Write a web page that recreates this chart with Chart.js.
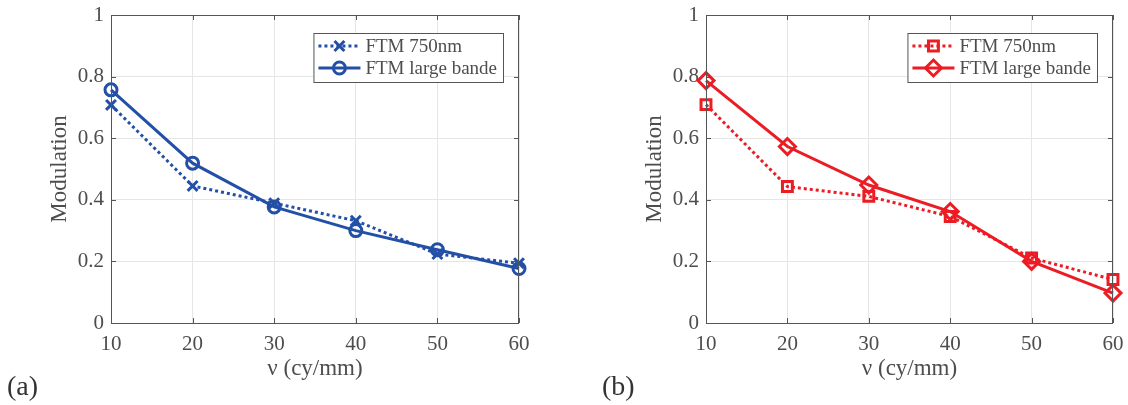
<!DOCTYPE html>
<html lang="fr">
<head>
  <meta charset="UTF-8" />
  <title>FTM - Modulation</title>
  <script src="https://cdn.jsdelivr.net/npm/chart.js"></script>
  <style>
    body { margin: 0; background: #fff; width: 1128px; height: 405px; position: relative; overflow: hidden; }
    .panel { position: absolute; top: 0; height: 405px; }
    #p1 { left: 0; width: 595px; }
    #p2 { left: 595px; width: 533px; }
    .lbl { position: absolute; top: 370px; font-family: 'Liberation Serif', serif; font-size: 28px; color: #333; }
  </style>
</head>
<body>
  <div class="panel" id="p1"><canvas id="chartA"></canvas></div>
  <div class="panel" id="p2"><canvas id="chartB"></canvas></div>
  <div class="lbl" style="left:7px">(a)</div>
  <div class="lbl" style="left:602px">(b)</div>

  <script>
    // données
    const nu = [10, 20, 30, 40, 50, 60];
    const bleu750 = [0.708, 0.445, 0.389, 0.332, 0.224, 0.194];
    const bleuLarge = [0.757, 0.519, 0.377, 0.300, 0.238, 0.177];
    const rouge750 = [0.709, 0.443, 0.411, 0.346, 0.211, 0.141];
    const rougeLarge = [0.787, 0.573, 0.448, 0.362, 0.200, 0.097];
    const xTicks = [10, 20, 30, 40, 50, 60];
    const yTicks = [0, 0.2, 0.4, 0.6, 0.8, 1];
    const labels = ["FTM 750nm", "FTM large bande"];

    const BLEU = "#2350a6";
    const ROUGE = "#ec1c24";
    const police = "'Liberation Serif', serif";
    const gris = "#4d4d4d";

    const pts = arr => arr.map((v, i) => ({ x: nu[i], y: v }));

    // cadre + graduations vers l'intérieur + légende dans le graphe
    const cadre = {
      id: "cadre",
      afterDatasetsDraw(chart) {
        const { ctx, chartArea: a, scales } = chart;
        ctx.save();
        ctx.strokeStyle = "#555";
        ctx.lineWidth = 1;
        ctx.strokeRect(a.left + 0.5, a.top + 0.5, a.right - a.left - 1, a.bottom - a.top);
        const L = 5;
        ctx.beginPath();
        scales.x.ticks.forEach(t => {
          const px = Math.round(scales.x.getPixelForValue(t.value)) + 0.5;
          ctx.moveTo(px, a.bottom); ctx.lineTo(px, a.bottom - L);
          ctx.moveTo(px, a.top); ctx.lineTo(px, a.top + L);
        });
        scales.y.ticks.forEach(t => {
          const py = Math.round(scales.y.getPixelForValue(t.value)) + 0.5;
          ctx.moveTo(a.left, py); ctx.lineTo(a.left + L, py);
          ctx.moveTo(a.right, py); ctx.lineTo(a.right - L, py);
        });
        ctx.stroke();

        // légende
        ctx.font = "19px " + police;
        const ds = chart.data.datasets;
        const tw = Math.max(...ds.map(d => ctx.measureText(d.label).width));
        const w = 5 + 42 + 5 + tw + 6, h = 49;
        const x0 = a.right - 16 - w, y0 = a.top + 18;
        ctx.fillStyle = "#fff";
        ctx.fillRect(x0, y0, w, h);
        ctx.strokeStyle = "#555";
        ctx.strokeRect(x0 + 0.5, y0 + 0.5, w, h);
        ds.forEach((d, i) => {
          const yy = y0 + 13 + i * 22;
          ctx.strokeStyle = d.borderColor;
          ctx.lineWidth = d.borderWidth;
          ctx.setLineDash(d.borderDash || []);
          ctx.beginPath();
          ctx.moveTo(x0 + 5, yy); ctx.lineTo(x0 + 47, yy);
          ctx.stroke();
          ctx.setLineDash([]);
          ctx.fillStyle = "rgba(0,0,0,0)";
          ctx.lineWidth = d.pointBorderWidth;
          Chart.helpers.drawPoint(ctx, {
            pointStyle: d.pointStyle, radius: d.pointRadius, borderWidth: d.pointBorderWidth, rotation: 0
          }, x0 + 26, yy);
          ctx.fillStyle = gris;
          ctx.textBaseline = "middle";
          ctx.fillText(d.label, x0 + 52, yy + 1);
        });
        ctx.restore();
      }
    };

    function serie(label, data, couleur, pointillé, style, r) {
      return {
        label, data: pts(data),
        borderColor: couleur, backgroundColor: "rgba(0,0,0,0)",
        borderWidth: 3, borderDash: pointillé ? [3, 3] : [],
        pointStyle: style, pointRadius: r, pointBorderWidth: 3,
        pointBorderColor: couleur, pointBackgroundColor: "rgba(0,0,0,0)",
        clip: false, tension: 0
      };
    }

    function graphe(id, d1, d2, padRight) {
      new Chart(document.getElementById(id), {
        type: "line",
        data: { datasets: [d1, d2] },
        options: {
          responsive: true, maintainAspectRatio: false, animation: false,
          layout: { padding: { left: 0, top: 15, right: padRight, bottom: 0 } },
          plugins: { legend: { display: false }, tooltip: { enabled: false } },
          scales: {
            x: {
              type: "linear", min: 10, max: 60,
              afterBuildTicks: s => { s.ticks = xTicks.map(v => ({ value: v })); },
              afterFit: s => { s.height = 82; s.paddingLeft = 0; s.paddingRight = 0; },
              grid: { color: "#e6e6e6", drawTicks: false },
              border: { display: false },
              ticks: { padding: 9, color: gris, font: { family: police, size: 21 }, callback: v => String(v) },
              title: { display: true, text: "ν (cy/mm)", color: gris, padding: { bottom: 22 },
                       font: { family: police, size: 23 } }
            },
            y: {
              min: 0, max: 1,
              afterBuildTicks: s => { s.ticks = yTicks.map(v => ({ value: v })); },
              afterFit: s => { s.width = 111; s.paddingTop = 0; s.paddingBottom = 0; },
              grid: { color: "#e6e6e6", drawTicks: false },
              border: { display: false },
              ticks: { padding: 7, color: gris, font: { family: police, size: 21 }, callback: v => String(v) },
              title: { display: true, text: "Modulation", color: gris, padding: { top: 46 },
                       font: { family: police, size: 23 } }
            }
          }
        },
        plugins: [cadre]
      });
    }

    graphe("chartA",
      serie(labels[0], bleu750, BLEU, true, "crossRot", 7),
      serie(labels[1], bleuLarge, BLEU, false, "circle", 6), 76);
    graphe("chartB",
      serie(labels[0], rouge750, ROUGE, true, "rect", 7),
      serie(labels[1], rougeLarge, ROUGE, false, "rectRot", 8), 15);
  </script>
</body>
</html>
